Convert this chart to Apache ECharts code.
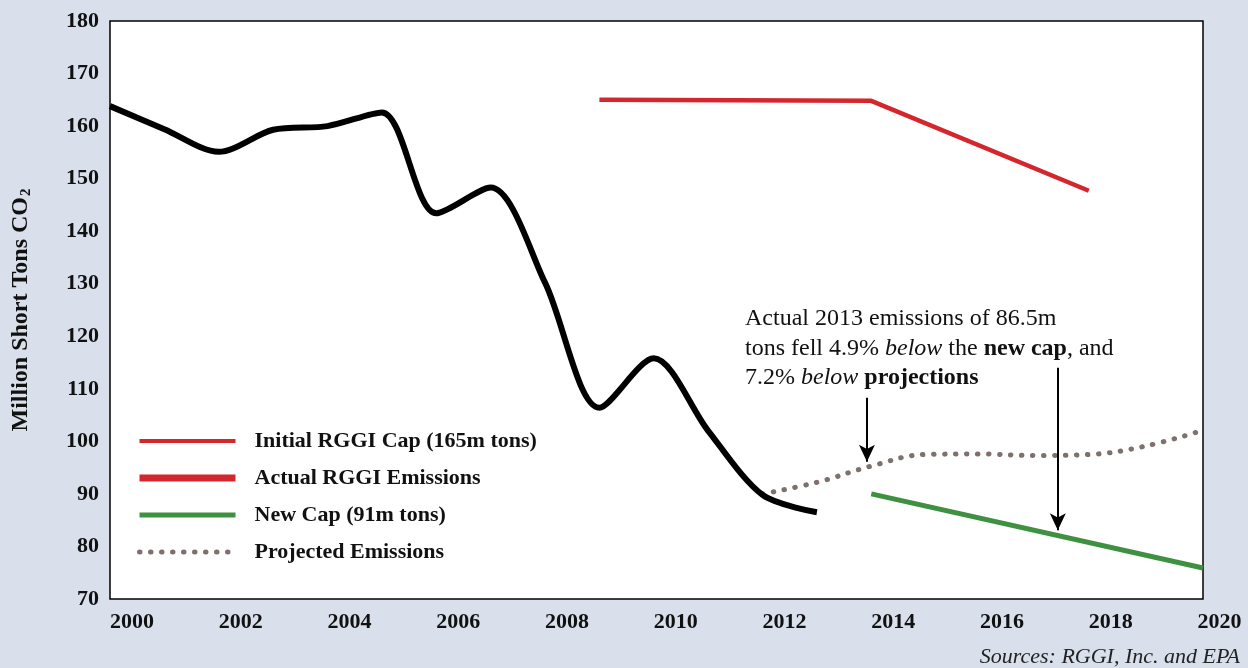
<!DOCTYPE html>
<html lang="en">
<head>
    <meta charset="UTF-8">
    <title>RGGI emissions</title>
    <script src="https://cdn.jsdelivr.net/npm/echarts@6/dist/echarts.min.js"></script>
    <style>
        html,body{margin:0;padding:0;background:#d9e0ec;}
        #main{width:1248px;height:668px;}
    </style>
</head>
<body>
    <div id="main"></div>
    <script>
        // values (million short tons CO2)
        var actualYears = [2000, 2001, 2002, 2003, 2004, 2005, 2006, 2007, 2008, 2009, 2010, 2011, 2012, 2013];
        var actualVals  = [163.8, 159.4, 155.1, 159.3, 160.0, 162.6, 143.4, 148.3, 130.2, 106.4, 115.8, 102.0, 89.8, 86.5];
        var capYears = [2009, 2014, 2018];
        var capVals  = [165.0, 164.8, 147.7];
        var newCapYears = [2014, 2020.1];
        var newCapVals  = [90.0, 75.9];
        var projYears = [2012, 2013, 2014, 2015, 2016, 2017, 2018, 2019, 2020];
        var projVals  = [90.0, 92.2, 95.3, 97.5, 97.6, 97.3, 97.5, 99.0, 101.8];
        var arrowX   = [2013.92, 2017.43];
        var arrowTop = [108.3, 114.0];
        var arrowTip = [96.1, 83.1];

        var serif = '"Liberation Serif", "DejaVu Serif", serif';
        var red = '#d4262d', green = '#3e9141', dots = '#7e706d';

        function pairs(xs, ys) {
            var out = [];
            for (var i = 0; i < xs.length; i++) out.push([xs[i], ys[i]]);
            return out;
        }
        var arrows = [];
        for (var i = 0; i < arrowX.length; i++) {
            arrows.push([{coord: [arrowX[i], arrowTop[i]]}, {coord: [arrowX[i], arrowTip[i]]}]);
        }

        var myChart = echarts.init(document.getElementById('main'));
        var option = {
            backgroundColor: '#d9e0ec',
            animation: false,
            grid: {
                left: 110, right: 45, top: 21, bottom: 69,
                outerBoundsMode: 'none',
                show: true, backgroundColor: '#fff', borderColor: '#000', borderWidth: 1.5
            },
            legend: {
                orient: 'vertical',
                left: 131, top: 425,
                itemWidth: 96, itemHeight: 14, itemGap: 15,
                itemStyle: {opacity: 0},
                textStyle: {fontFamily: serif, fontWeight: 'bold', fontSize: 22, color: '#111', lineHeight: 22, padding: [0, 0, 0, 14]},
                data: [
                    {name: 'Initial RGGI Cap (165m tons)', lineStyle: {color: red, width: 4}},
                    {name: 'Actual RGGI Emissions', lineStyle: {color: red, width: 7}},
                    {name: 'New Cap (91m tons)', lineStyle: {color: green, width: 5}},
                    {name: 'Projected Emissions', lineStyle: {color: dots, width: 5, type: [0.5, 10.5], cap: 'round'}}
                ]
            },
            xAxis: {
                type: 'value',
                min: 2000, max: 2020.1, interval: 2,
                axisLine: {show: false}, axisTick: {show: false}, splitLine: {show: false},
                axisLabel: {
                    align: 'left', margin: 12,
                    fontFamily: serif, fontWeight: 'bold', fontSize: 22, color: '#111',
                    formatter: function (v) { return v % 2 === 0 ? String(v) : ''; }
                }
            },
            yAxis: {
                type: 'value',
                min: 70, max: 180, interval: 10,
                axisLine: {show: false}, axisTick: {show: false}, splitLine: {show: false},
                axisLabel: {margin: 11, fontFamily: serif, fontWeight: 'bold', fontSize: 22, color: '#111'},
                name: 'Million Short Tons CO{s|2}',
                nameLocation: 'middle', nameGap: 76,
                nameTextStyle: {
                    fontFamily: serif, fontWeight: 'bold', fontSize: 24, color: '#111',
                    rich: {s: {fontFamily: serif, fontWeight: 'bold', fontSize: 15, color: '#111', padding: [11, 0, 0, 1]}}
                }
            },
            series: [
                {
                    name: 'Initial RGGI Cap (165m tons)', type: 'line', symbol: 'none',
                    lineStyle: {color: red, width: 4.5},
                    itemStyle: {color: red},
                    data: pairs(capYears, capVals)
                },
                {
                    name: 'Actual RGGI Emissions', type: 'line', symbol: 'none', smooth: 0.3, z: 5,
                    lineStyle: {color: '#000', width: 6},
                    itemStyle: {color: '#000'},
                    data: pairs(actualYears, actualVals),
                    markLine: {
                        silent: true,
                        symbol: ['none', 'arrow'], symbolSize: [12, 17],
                        label: {show: false},
                        lineStyle: {color: '#000', width: 2, type: 'solid'},
                        data: arrows
                    }
                },
                {
                    name: 'New Cap (91m tons)', type: 'line', symbol: 'none',
                    lineStyle: {color: green, width: 5},
                    itemStyle: {color: green},
                    data: pairs(newCapYears, newCapVals)
                },
                {
                    name: 'Projected Emissions', type: 'line', symbol: 'none', smooth: 0.4,
                    lineStyle: {color: dots, width: 5, type: [0.5, 10.5], cap: 'round'},
                    itemStyle: {color: dots},
                    data: pairs(projYears, projVals)
                }
            ],
            graphic: [
                {
                    type: 'text', left: 745, top: 307, z: 10,
                    style: {
                        text: '{r|Actual 2013 emissions of 86.5m}\n{r|tons fell 4.9% }{i|below}{r| the }{b|new cap}{r|, and}\n{r|7.2% }{i|below}{r| }{b|projections}',
                        rich: {
                            r: {fontFamily: serif, fontSize: 24, lineHeight: 29.5, fill: '#111'},
                            i: {fontFamily: serif, fontSize: 24, lineHeight: 29.5, fontStyle: 'italic', fill: '#111'},
                            b: {fontFamily: serif, fontSize: 24, lineHeight: 29.5, fontWeight: 'bold', fill: '#111'}
                        }
                    }
                },
                {
                    type: 'text', right: 8, top: 646,
                    style: {text: 'Sources: RGGI, Inc. and EPA', font: 'italic 22px ' + serif, fill: '#222'}
                }
            ]
        };
        myChart.setOption(option);
    </script>
</body>
</html>
